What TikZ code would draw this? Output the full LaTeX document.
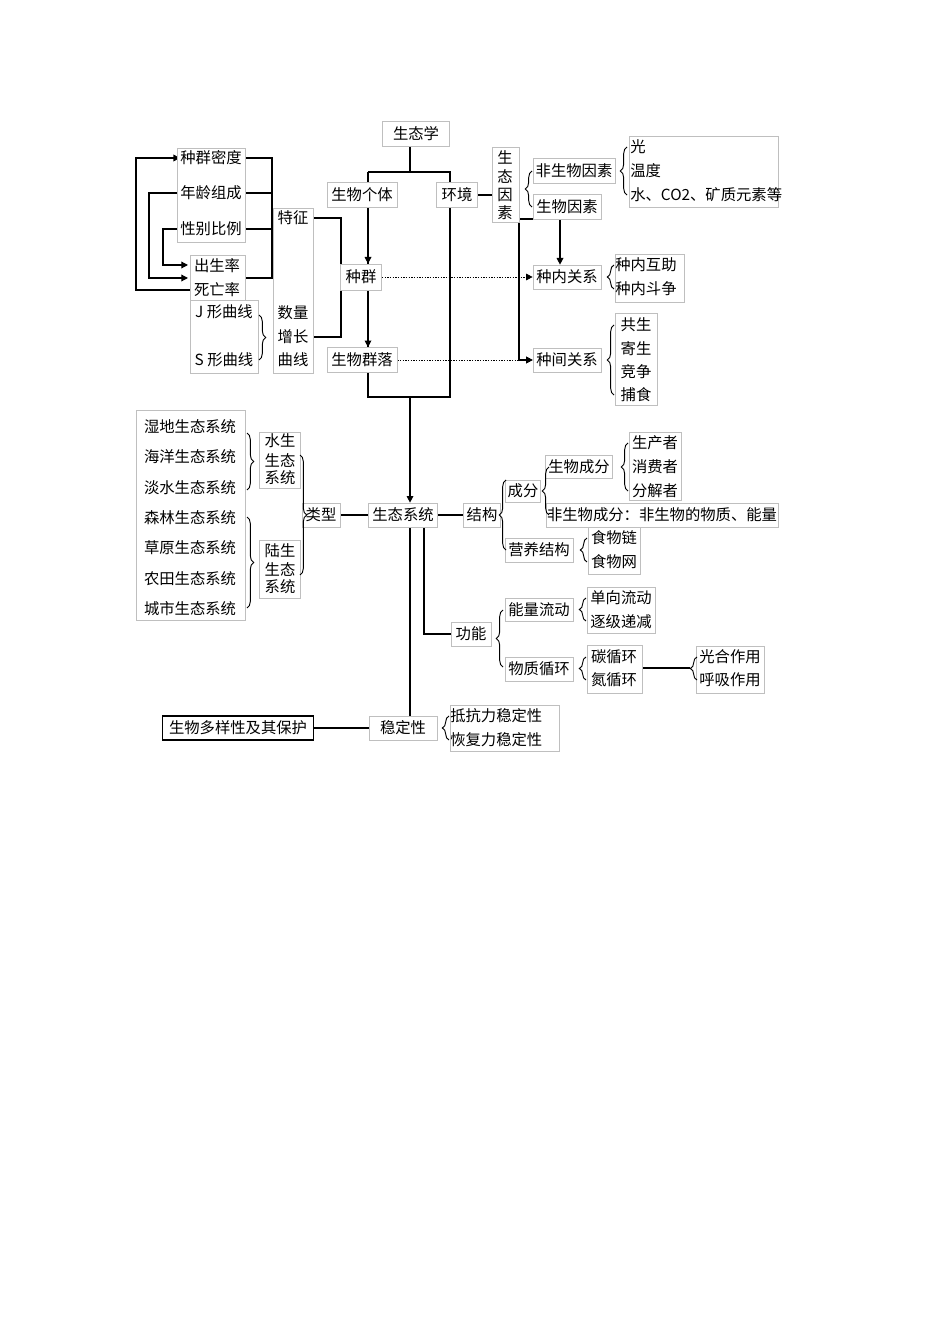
\documentclass[tikz,border=0pt]{standalone}
\usepackage{fontspec}
\setmainfont{Noto Sans CJK SC}
\usetikzlibrary{arrows.meta,decorations.pathreplacing}
\pgfdeclarelayer{bg}\pgfsetlayers{bg,main}
\begin{document}
\begin{tikzpicture}[x=0.75pt,y=-0.75pt,
  font=\fontsize{11.5pt}{13pt}\selectfont,
  b/.style 2 args={draw=gray!50,line width=0.5pt,fill=white,inner sep=0pt,minimum width={#1*0.75pt},minimum height={#2*0.75pt}},
  gbox/.style={draw=gray!50,line width=0.5pt,fill=white},
  t/.style={inner sep=0pt},
  ln/.style={line width=0.9pt},
  ar/.style={ln,-{Triangle[length=5pt,width=5pt]}},
  dot/.style={line width=0.6pt,dash pattern=on 1pt off 1pt,-{Triangle[length=5pt,width=5pt]}},
  br/.style={line width=0.7pt,decorate,decoration={brace,amplitude=5pt}}]
\useasboundingbox (0,0) rectangle (950,1344);
% ---------- top ----------
\node[b={67}{25}] (eco) at (416,134) {生态学};
\node[b={70}{25}] (geti) at (362,195) {生物个体};
\node[b={41}{26}] (zq) at (361,277) {种群};
\node[b={70}{25}] (ql) at (362,360) {生物群落};
\coordinate (tl) at (368,172); \coordinate (tm) at (410,172); \coordinate (tr) at (450,172);
\coordinate (bl) at (368,397); \coordinate (bm) at (410,397); \coordinate (brr) at (450,397);
% left lists
\draw[gbox] (177,148) rectangle (245,242);
\node[t] (mi) at (211,158) {种群密度};
\node[t] (nl) at (211,193) {年龄组成};
\node[t] (xb) at (211,229) {性别比例};
\draw[gbox] (190,255) rectangle (245,300);
\node[t] (cs) at (217,266) {出生率};
\node[t] (sw) at (217,290) {死亡率};
\draw[gbox] (190,300) rectangle (258,373);
\node[t] (jx) at (224,312) {J 形曲线};
\node[t] (sx) at (224,360) {S 形曲线};
\draw[gbox] (273,208) rectangle (313,373);
\node[t] (tz) at (293,218) {特征};
\node[t] at (293,313) {数量};
\node[t] (zz) at (293,337) {增长};
\node[t] at (293,360) {曲线};
\coordinate (vtop) at (272,158); \coordinate (vbot) at (272,278);
\coordinate (o1) at (136,290); \coordinate (o2) at (136,158);
\coordinate (m1) at (149,193); \coordinate (m2) at (149,278); \coordinate (ma) at (188,278);
\coordinate (i1) at (163,229); \coordinate (i2) at (163,265); \coordinate (ia) at (188,265);
\coordinate (tzr) at (341,218); \coordinate (zzr) at (341,337);
% right top
\node[b={41}{25}] (hj) at (457,195) {环境};
\draw[gbox] (492,147) rectangle (519,222);
\node[t] at (505,157) {生}; \node[t] at (505,176) {态};
\node[t] (yin) at (505,195) {因}; \node[t] at (505,213) {素};
\coordinate (yl) at (492,195);
\node[b={82}{25}] (fsw) at (574,171) {非生物因素};
\node[b={68}{25}] (swys) at (567,207) {生物因素};
\draw[gbox] (629,136) rectangle (778,207);
\node[t,anchor=west] at (630,147) {光};
\node[t,anchor=west] at (630,171) {温度};
\node[t,anchor=west] at (630,195) {水、CO2、矿质元素等};
\node[b={68}{24}] (zn) at (567,277) {种内关系};
\node[b={68}{24}] (zj) at (567,360) {种间关系};
\draw[gbox] (615,254) rectangle (684,302);
\node[t,anchor=west] at (615,265) {种内互助};
\node[t,anchor=west] at (615,289) {种内斗争};
\draw[gbox] (615,313) rectangle (657,405);
\node[t] at (636,325) {共生}; \node[t] at (636,349) {寄生};
\node[t] at (636,372) {竞争}; \node[t] at (636,395) {捕食};
\coordinate (e1) at (545,219); \coordinate (e2) at (519,219); \coordinate (e3) at (519,360);
% ---------- ecosystem ----------
\node[b={69}{24}] (st) at (403,515) {生态系统};
\node[b={38}{24}] (lx) at (321,515) {类型};
\draw[gbox] (136,410) rectangle (245,620);
\foreach \s/\y in {湿地生态系统/427,海洋生态系统/457,淡水生态系统/488,森林生态系统/518,草原生态系统/548,农田生态系统/579,城市生态系统/609}
  \node[t] at (190,\y) {\s};
\draw[gbox] (259,432) rectangle (300,488);
\node[t] at (280,441) {水生}; \node[t] at (280,460) {生态}; \node[t] at (280,478) {系统};
\draw[gbox] (259,540) rectangle (300,598);
\node[t] at (280,551) {陆生}; \node[t] at (280,569) {生态}; \node[t] at (280,587) {系统};
\node[b={37}{24}] (jg) at (482,515) {结构};
\node[b={35}{22}] (cf) at (523,491) {成分};
\node[b={67}{23}] (swcf) at (579,467) {生物成分};
\node[b={232}{24}] (fswcf) at (662,515) {非生物成分：非生物的物质、能量};
\draw[gbox] (629,432) rectangle (681,500);
\node[t] at (655,443) {生产者}; \node[t] at (655,467) {消费者}; \node[t] at (655,491) {分解者};
\node[b={68}{24}] (yy) at (539,550) {营养结构};
\draw[gbox] (588,527) rectangle (640,574);
\node[t] at (614,538) {食物链}; \node[t] at (614,562) {食物网};
\node[b={40}{24}] (gn) at (471,634) {功能};
\node[b={68}{23}] (nl2) at (539,610) {能量流动};
\node[b={68}{24}] (wz) at (539,669) {物质循环};
\draw[gbox] (587,587) rectangle (655,633);
\node[t] at (621,598) {单向流动}; \node[t] at (621,622) {逐级递减};
\draw[gbox] (587,645) rectangle (642,693);
\node[t] at (614,657) {碳循环}; \node[t] (dx) at (614,680) {氮循环};
\coordinate (txr) at (642,668); \coordinate (txe) at (690,668);
\draw[gbox] (696,646) rectangle (764,693);
\node[t] at (730,657) {光合作用}; \node[t] at (730,680) {呼吸作用};
\node[b={68}{24}] (wd) at (403,728) {稳定性};
\node[draw=black,line width=0.9pt,fill=white,inner sep=0pt,minimum width={151*0.75pt},minimum height={24*0.75pt}] (dy) at (238,728) {生物多样性及其保护};
\draw[gbox] (450,705) rectangle (559,751);
\node[t,anchor=west] at (450,716) {抵抗力稳定性};
\node[t,anchor=west] at (450,740) {恢复力稳定性};
\coordinate (gx) at (424,527); \coordinate (gy) at (424,634);
% ---------- braces ----------
\draw[br] (259,315) -- (259,360);
\draw[br] (532,207) -- (532,171);
\draw[br] (627,195) -- (627,147);
\draw[br] (614,289) -- (614,265);
\draw[br] (614,395) -- (614,325);
\draw[br] (247,433) -- (247,490);
\draw[br] (247,517) -- (247,608);
\draw[br] (300,455) -- (300,575);
\draw[br] (506,550) -- (506,480);
\draw[br] (549,515) -- (549,467);
\draw[br] (628,491) -- (628,443);
\draw[br] (587,562) -- (587,538);
\draw[br] (503,667) -- (503,610);
\draw[br] (586,621) -- (586,598);
\draw[br] (586,680) -- (586,657);
\draw[br] (697,680) -- (697,657);
\draw[br] (449,740) -- (449,716);
% ---------- connectors ----------
\begin{pgfonlayer}{bg}
\draw[ln] (eco.south -| tm) -- (tm);
\draw[ln] (tl) -- (tr) -- (brr) -- (bl) -- (tl);
\draw[ar] (geti.south -| tl) -- (zq.north -| tl);
\draw[ar] (zq.south -| tl) -- (ql.north -| tl);
\draw[ar] (bm) -- (st.north -| bm);
\draw[ln] (st.south -| bm) -- (wd.north -| bm);
\draw[ln] (mi.east) -- (vtop) -- (vbot) -- (vbot -| cs.east);
\draw[ln] (nl.east) -- (nl.east -| vtop);
\draw[ln] (xb.east) -- (xb.east -| vtop);
\draw[ar] (sw.west) -- (o1) -- (o2) -- (mi.west);
\draw[ar] (nl.west) -- (m1) -- (m2) -- (ma);
\draw[ar] (xb.west) -- (i1) -- (i2) -- (ia);
\draw[ln] (tz.east -| 313,0) -- (tzr) -- (zzr) -- (zzr -| 313,0);
\draw[ln] (hj.east) -- (yl);
\draw[ln] (e1) -- (e2) -- (e3);
\draw[ar] (e3) -- (zj.west);
\draw[ar] (swys.south -| 560,0) -- (zn.north -| 560,0);
\draw[dot] (zq.east) -- (zn.west);
\draw[dot] (ql.east) -- (zj.west);
\draw[ln] (lx.east) -- (st.west);
\draw[ln] (st.east) -- (jg.west);
\draw[ln] (gx) -- (gy) -- (gn.west);
\draw[ln] (txr) -- (txe);
\draw[ln] (dy.east) -- (wd.west);
\end{pgfonlayer}
\end{tikzpicture}
\end{document}
